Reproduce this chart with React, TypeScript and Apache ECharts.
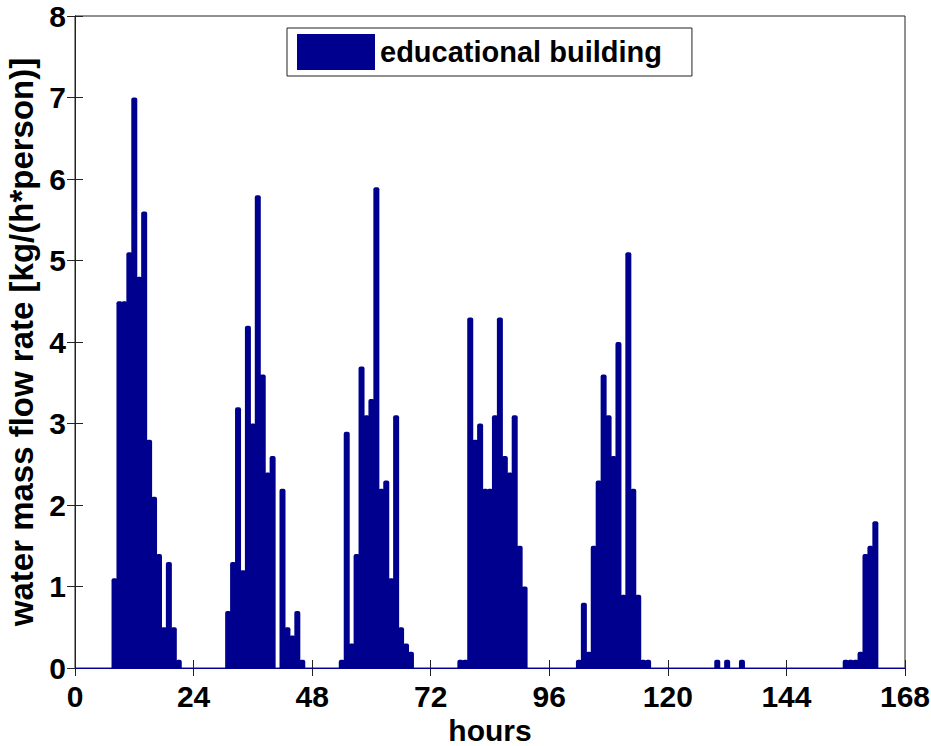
import React, { useEffect, useRef } from "react";
import * as echarts from "echarts";

// water mass flow rate [kg/(h*person)] per hour, hours 1..24 of each day
const day1 = [0, 0, 0, 0, 0, 0, 0, 1.1, 4.5, 4.5, 5.1, 7.0, 4.8, 5.6, 2.8, 2.1, 1.4, 0.5, 1.3, 0.5, 0.1, 0, 0, 0];
const day2 = [0, 0, 0, 0, 0, 0, 0.7, 1.3, 3.2, 1.2, 4.2, 3.0, 5.8, 3.6, 2.4, 2.6, 0, 2.2, 0.5, 0.4, 0.7, 0.1, 0, 0];
const day3 = [0, 0, 0, 0, 0, 0.1, 2.9, 0.3, 1.4, 3.7, 3.1, 3.3, 5.9, 2.2, 2.3, 1.1, 3.1, 0.5, 0.3, 0.2, 0, 0, 0, 0];
const day4 = [0, 0, 0, 0, 0, 0.1, 0.1, 4.3, 2.8, 3.0, 2.2, 2.2, 3.1, 4.3, 2.6, 2.4, 3.1, 1.5, 1.0, 0, 0, 0, 0, 0];
const day5 = [0, 0, 0, 0, 0, 0.1, 0.8, 0.2, 1.5, 2.3, 3.6, 3.1, 2.6, 4.0, 0.9, 5.1, 2.2, 0.9, 0.1, 0.1, 0, 0, 0, 0];
const day6 = [0, 0, 0, 0, 0, 0, 0, 0, 0, 0.1, 0, 0.1, 0, 0, 0.1, 0, 0, 0, 0, 0, 0, 0, 0, 0];
const day7 = [0, 0, 0, 0, 0, 0, 0, 0, 0, 0, 0, 0.1, 0.1, 0.1, 0.2, 1.4, 1.5, 1.8, 0, 0, 0, 0, 0, 0];

const days = [day1, day2, day3, day4, day5, day6, day7];
const seriesName = "educational building";
const xTicks = [0, 24, 48, 72, 96, 120, 144, 168];
const yTicks = [0, 1, 2, 3, 4, 5, 6, 7, 8];

const NAVY = "#00008F";
const SANS = "'Liberation Sans', Arial, Helvetica, sans-serif";

export default function App() {
  const ref = useRef<HTMLDivElement>(null);

  useEffect(() => {
    if (!ref.current) return;
    const chart = echarts.init(ref.current, null, { renderer: "svg" });

    const data: [number, number][] = [];
    days.forEach((d, di) => d.forEach((v, i) => data.push([di * 24 + i + 1, v])));

    const tickLabel = { fontFamily: SANS, fontWeight: "bold" as const, fontSize: 30, color: "#000" };

    chart.setOption({
      animation: false,
      backgroundColor: "#fff",
      grid: {
        left: 75,
        right: 26,
        top: 16,
        bottom: 78,
        containLabel: false,
        outerBoundsMode: "none",
        show: true,
        borderColor: "#222",
        borderWidth: 1,
      },
      legend: {
        data: [seriesName],
        left: 287,
        top: 28,
        padding: [5, 30, 5, 10],
        itemGap: 0,
        itemWidth: 78,
        itemHeight: 36,
        icon: "rect",
        borderColor: "#222",
        borderWidth: 1,
        backgroundColor: "#fff",
        textStyle: { ...tickLabel, fontSize: 29, lineHeight: 38 },
      },
      xAxis: [
        {
          type: "value",
          min: 0,
          max: 168,
          interval: 24,
          name: "hours",
          nameLocation: "middle",
          nameGap: 39,
          nameTextStyle: tickLabel,
          axisLine: { show: true, lineStyle: { color: "#222", width: 1 } },
          axisTick: { show: true, inside: true, length: 8, lineStyle: { color: "#222" } },
          axisLabel: { ...tickLabel, margin: 13, customValues: xTicks },
          splitLine: { show: false },
        },
        {
          type: "value",
          position: "top",
          min: 0,
          max: 168,
          interval: 24,
          axisLine: { show: true, lineStyle: { color: "#222", width: 1 } },
          axisTick: { show: true, inside: true, length: 8, lineStyle: { color: "#222" } },
          axisLabel: { show: false },
          splitLine: { show: false },
        },
      ],
      yAxis: [
        {
          type: "value",
          min: 0,
          max: 8,
          interval: 1,
          name: "water mass flow rate [kg/(h*person)]",
          nameLocation: "middle",
          nameGap: 33,
          nameTextStyle: { fontFamily: SANS, fontWeight: "bold", fontSize: 33, color: "#000" },
          axisLine: { show: true, lineStyle: { color: "#222", width: 1 } },
          axisTick: { show: true, inside: true, length: 8, lineStyle: { color: "#222" } },
          axisLabel: { ...tickLabel, margin: 9, customValues: yTicks },
          splitLine: { show: false },
        },
        {
          type: "value",
          position: "right",
          min: 0,
          max: 8,
          interval: 1,
          axisLine: { show: true, lineStyle: { color: "#222", width: 1 } },
          axisTick: { show: true, inside: true, length: 8, lineStyle: { color: "#222" } },
          axisLabel: { show: false },
          splitLine: { show: false },
        },
      ],
      series: [
        {
          name: seriesName,
          type: "bar",
          xAxisIndex: 0,
          yAxisIndex: 0,
          data,
          barWidth: 6,
          itemStyle: { color: NAVY, borderWidth: 0, borderRadius: [2, 2, 0, 0] },
          markLine: {
            silent: true,
            symbol: "none",
            label: { show: false },
            lineStyle: { color: NAVY, width: 1, type: "solid" },
            data: [{ yAxis: 0 }],
          },
        },
      ],
    });

    return () => chart.dispose();
  }, []);

  return (
    <div
      ref={ref}
      style={{ position: "fixed", left: 0, top: 0, width: 931, height: 746, background: "#fff" }}
    />
  );
}
